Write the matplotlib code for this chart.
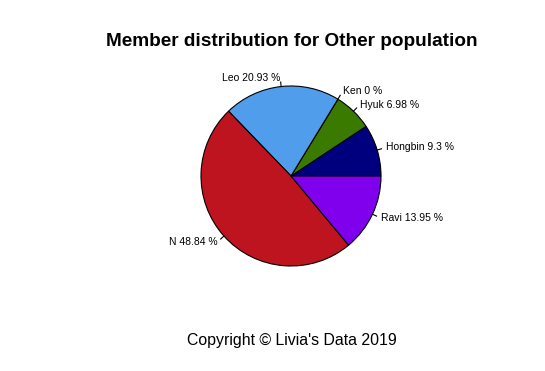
import numpy as np
import matplotlib.pyplot as plt

# member counts for "Other" population
members = ['Hongbin', 'Hyuk', 'Ken', 'Leo', 'N', 'Ravi']
counts = [4, 3, 0, 9, 21, 6]
colors = ['#00007f', '#3a7a00', '#ffffff', '#4f9deb', '#be1420', '#8000ee']

total = sum(counts)
pct = [round(c / total * 100, 2) for c in counts]
labels = [f"{m} {p:g} %" for m, p in zip(members, pct)]

W, H = 545, 371
fig = plt.figure(figsize=(W / 100, H / 100), dpi=100)
ax = fig.add_axes([0, 0, 1, 1])

cx, cy, r = 291, H - 176, 90
wedges, _ = ax.pie(counts, colors=colors, startangle=0, counterclock=True,
                   radius=r, center=(cx, cy),
                   wedgeprops=dict(edgecolor='black', linewidth=0.8))

# tick marks and labels like base R pie()
frac = np.cumsum([0] + counts) / total
mids = 2 * np.pi * (frac[:-1] + frac[1:]) / 2
for ang, lab in zip(mids, labels):
    px, py = np.cos(ang), np.sin(ang)
    ax.plot([cx + r * px, cx + 1.05 * r * px], [cy + r * py, cy + 1.05 * r * py],
            color='black', lw=0.8)
    ax.text(cx + 1.1 * r * px, cy + 1.1 * r * py, lab,
            ha='left' if px >= 0 else 'right', va='center',
            fontsize=7.45, family='Liberation Sans')

ax.set_xlim(0, W)
ax.set_ylim(0, H)
ax.set_aspect('equal')
ax.axis('off')

fig.text(291.5 / W, 1 - 42 / H, 'Member distribution for Other population',
         ha='center', va='center', fontsize=13.7, fontweight='bold',
         family='Liberation Sans')
fig.text(292 / W, 1 - 341 / H, "Copyright \u00a9 Livia's Data 2019",
         ha='center', va='center', fontsize=11.4, family='Liberation Sans')

fig.savefig('out.png', dpi=100, facecolor='white')
